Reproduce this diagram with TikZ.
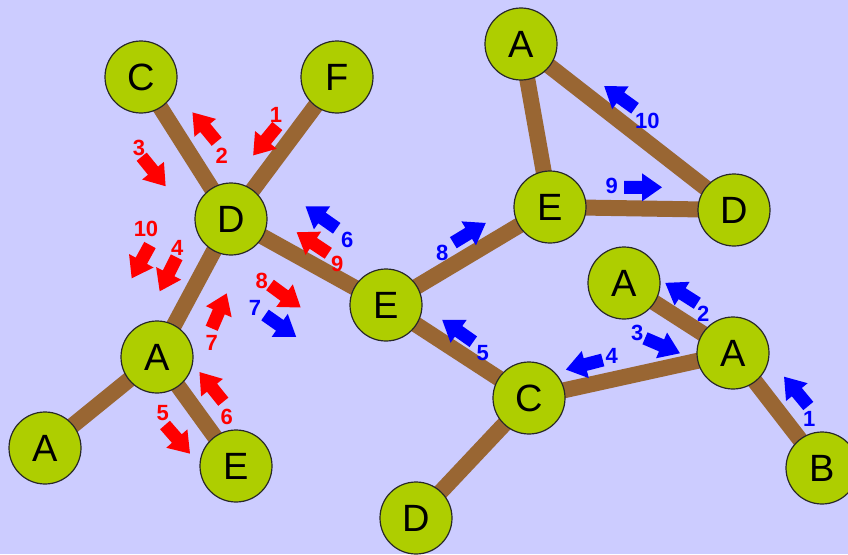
\documentclass[tikz,border=0pt]{standalone}
\usepackage{fontspec}
\setmainfont{Liberation Sans}
\usetikzlibrary{backgrounds}
\definecolor{bgcol}{RGB}{204,204,255}
\definecolor{leaf}{RGB}{174,206,0}
\definecolor{bond}{RGB}{153,102,51}
\definecolor{rim}{RGB}{40,40,40}
\definecolor{redarr}{RGB}{255,0,0}
\definecolor{bluearr}{RGB}{0,0,255}
\tikzset{
  atom/.style={circle, fill=leaf, draw=rim, line width=1.2pt, minimum size=72pt,
    inner sep=0pt, font=\fontsize{38}{38}\selectfont},
  bondline/.style={draw=bond, line width=16pt},
  steplbl/.style={inner sep=0pt, font=\bfseries\fontsize{22}{22}\selectfont},
  redlbl/.style={steplbl, text=redarr},
  bluelbl/.style={steplbl, text=bluearr},
}
% fat block arrow: colour, tail x, tail y, direction angle
\newcommand\fatarrow[4]{%
  \fill[#1, shift={(#2,#3)}, rotate=#4]
    (0,-6.5) -- (18,-6.5) -- (18,-14) -- (38,0) -- (18,14) -- (18,6.5) -- (0,6.5) -- cycle;}
\begin{document}
\begin{tikzpicture}[x=1pt, y=-1pt]
  \useasboundingbox (0,0) rectangle (848,554);
  \clip (0,0) rectangle (848,554);

  % left tree
  \node[atom] (c1) at (141,77) {C};
  \node[atom] (f1) at (337,77) {F};
  \node[atom] (d1) at (231,219) {D};
  \node[atom] (a1) at (157,357) {A};
  \node[atom] (a2) at (45,448) {A};
  \node[atom] (e1) at (236,466) {E};
  % middle and right part
  \node[atom] (e2) at (386,305) {E};
  \node[atom] (c2) at (529,398) {C};
  \node[atom] (d2) at (416,518) {D};
  \node[atom] (e3) at (550,207) {E};
  \node[atom] (a3) at (521,44) {A};
  \node[atom] (d3) at (734,210) {D};
  \node[atom] (a4) at (624,283) {A};
  \node[atom] (a5) at (733,353) {A};
  \node[atom] (b1) at (822,468) {B};

  \begin{scope}[on background layer]
    \fill[bgcol] (0,0) rectangle (848,554);
    \foreach \u/\v in {c1/d1, f1/d1, d1/a1, a1/a2, a1/e1, d1/e2, e2/e3, e2/c2,
                       c2/d2, c2/a5, a5/a4, a5/b1, e3/a3, a3/d3, e3/d3}
      \draw[bondline] (\u.center) -- (\v.center);
  \end{scope}

  % red sequence
  \fatarrow{redarr}{277.3}{126}{-129.4}
  \node[redlbl] (r1) at (276,115) {1};
  \fatarrow{redarr}{216.7}{141.7}{129.6}
  \node[redlbl] (r2) at (221.7,156) {2};
  \fatarrow{redarr}{141.7}{156.7}{-51}
  \node[redlbl] (r3) at (139,148) {3};
  \fatarrow{redarr}{176.7}{257.3}{-116.6}
  \node[redlbl] (r4) at (177.3,247.7) {4};
  \fatarrow{redarr}{165}{425}{-48.9}
  \node[redlbl] (r5) at (162.7,413.3) {5};
  \fatarrow{redarr}{223.3}{401.7}{128.8}
  \node[redlbl] (r6) at (226.7,416.7) {6};
  \fatarrow{redarr}{211.7}{328.3}{66.8}
  \node[redlbl] (r7) at (211.7,343.3) {7};
  \fatarrow{redarr}{270}{285}{-36.3}
  \node[redlbl] (r8) at (261.7,281) {8};
  \fatarrow{redarr}{328.3}{253.3}{146.4}
  \node[redlbl] (r9) at (337.3,264) {9};
  \fatarrow{redarr}{150}{245}{-118.8}
  \node[redlbl] (r10) at (146,229.3) {10};

  % blue sequence
  \fatarrow{bluearr}{808.3}{406}{129.6}
  \node[bluelbl] (s1) at (809.3,419.3) {1};
  \fatarrow{bluearr}{697.3}{303.3}{147.5}
  \node[bluelbl] (s2) at (703.3,314) {2};
  \fatarrow{bluearr}{645}{338.3}{-23.2}
  \node[bluelbl] (s3) at (637.3,332.7) {3};
  \fatarrow{bluearr}{602.7}{360}{-165.4}
  \node[bluelbl] (s4) at (611.7,356) {4};
  \fatarrow{bluearr}{473.3}{341.7}{144.9}
  \node[bluelbl] (s5) at (482.7,352.7) {5};
  \fatarrow{bluearr}{336.7}{228.3}{144.9}
  \node[bluelbl] (s6) at (347.3,240) {6};
  \fatarrow{bluearr}{265}{315}{-35}
  \node[bluelbl] (s7) at (255,308.3) {7};
  \fatarrow{bluearr}{453.3}{242.7}{31.3}
  \node[bluelbl] (s8) at (442.3,253.3) {8};
  \fatarrow{bluearr}{624}{187.3}{0}
  \node[bluelbl] (s9) at (611.7,186) {9};
  \fatarrow{bluearr}{635}{108.3}{144.2}
  \node[bluelbl] (s10) at (647.3,120.7) {10};
\end{tikzpicture}
\end{document}
